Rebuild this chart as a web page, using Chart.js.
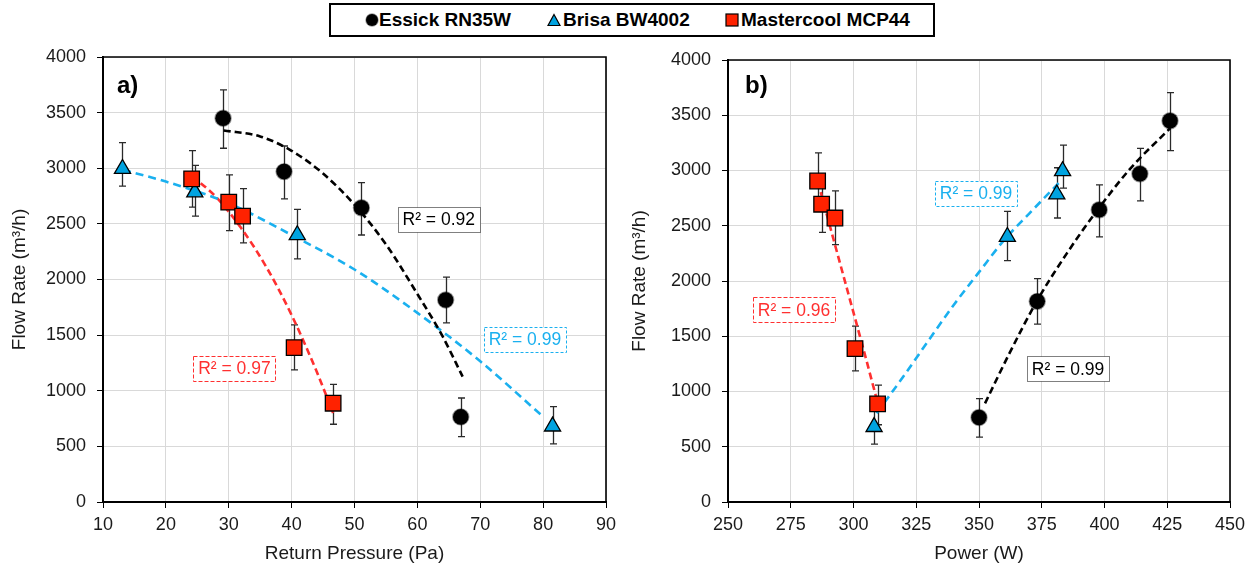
<!DOCTYPE html>
<html>
<head>
<meta charset="utf-8">
<script src="https://cdn.jsdelivr.net/npm/chart.js@4.4.1/dist/chart.umd.min.js"></script>
<style>
html,body{margin:0;padding:0;background:#fff;}
#wrap{position:relative;width:1253px;height:566px;overflow:hidden;font-family:"Liberation Sans",Arial,sans-serif;}
#ca{position:absolute;left:0;top:0;}
#cb{position:absolute;left:626px;top:0;}
#legend{position:absolute;left:329px;top:3px;width:602px;height:30px;border:2px solid #000;background:#fff;font-weight:bold;font-size:19px;color:#000;}
#legend .m{position:absolute;top:8px;}
#legend .t{position:absolute;top:4px;line-height:22px;white-space:nowrap;}
</style>
</head>
<body>
<div id="wrap">
  <canvas id="ca" width="626" height="566"></canvas>
  <canvas id="cb" width="627" height="566"></canvas>
  <div id="legend">
    <svg class="m" style="left:34px" width="14" height="14"><circle cx="7" cy="7" r="6" fill="#000" stroke="rgba(0,0,0,0.4)" stroke-width="1.5"/></svg>
    <span class="t" style="left:48px">Essick RN35W</span>
    <svg class="m" style="left:216px" width="14" height="14"><polygon points="7,1.5 13,12.5 1,12.5" fill="#00a3e0" stroke="#000" stroke-width="1.2"/></svg>
    <span class="t" style="left:232px">Brisa BW4002</span>
    <svg class="m" style="left:394px" width="14" height="14"><rect x="1" y="1" width="12" height="12" fill="#ff2200" stroke="#000" stroke-width="1.2"/></svg>
    <span class="t" style="left:410px">Mastercool MCP44</span>
  </div>
</div>
<script>
// ---------------- DATA ----------------
const yTickValues  = [0, 500, 1000, 1500, 2000, 2500, 3000, 3500, 4000];
const xTickValuesA = [10, 20, 30, 40, 50, 60, 70, 80, 90];
const xTickValuesB = [250, 275, 300, 325, 350, 375, 400, 425, 450];

const essickPressure = [29.1, 38.8, 51.1, 64.5, 66.9];
const essickPower    = [426.1, 414.1, 397.9, 373.2, 350.0];
const essickFlow     = [3450, 2970, 2645, 1816, 765];
const essickErrUp    = [255, 230, 225, 205, 170];
const essickErrDown  = [270, 245, 245, 206, 178];

const brisaPressure = [13.1, 24.6, 40.9, 81.5];
const brisaPower    = [383.3, 381.0, 361.3, 308.2];
const brisaFlow     = [2995, 2785, 2400, 680];
const brisaErrUp    = [235, 240, 230, 177];
const brisaErrDown  = [155, 215, 215, 157];

const masterPressure = [24.1, 30.0, 32.2, 40.4, 46.6];
const masterPower    = [285.7, 287.3, 292.6, 300.6, 309.6];
const masterFlow     = [2905, 2695, 2570, 1388, 888];
const masterErrUp    = [254, 245, 246, 204, 170];
const masterErrDown  = [255, 255, 240, 201, 189];

// trendlines
const trendAEssickX = [29.2, 35, 40, 45, 50, 55, 60, 64, 67.2];
const trendAEssickY = [3340, 3286, 3157, 2952, 2672, 2316, 1870, 1490, 1127];
const trendABrisaX  = [13.2, 20, 30, 40, 50, 60, 70, 80];
const trendABrisaY  = [2985, 2880, 2686, 2400, 2090, 1700, 1265, 767];
const trendAMasterX = [24.2, 28, 32, 36, 40, 44, 46.6];
const trendAMasterY = [2930, 2740, 2460, 2110, 1680, 1170, 800];

const trendBEssickX = [352.4, 362, 373.3, 385, 395.5, 410, 426.1];
const trendBEssickY = [893, 1340, 1828, 2250, 2590, 3010, 3382];
const trendBBrisaX  = [309.2, 320, 330, 340, 350, 360, 370, 382.3];
const trendBBrisaY  = [803, 1140, 1465, 1785, 2080, 2370, 2610, 2900];
const trendBMasterX = [285.8, 292, 298, 304, 309.6];
const trendBMasterY = [2900, 2380, 1880, 1380, 900];

const r2TextsA = ['R² = 0.92', 'R² = 0.99', 'R² = 0.97'];
const r2TextsB = ['R² = 0.99', 'R² = 0.99', 'R² = 0.96'];

// ---------------- STYLES ----------------
const FONT = '"Liberation Sans", Arial, sans-serif';
const C_BLUE = '#00a3e0', C_RED = '#ff2200';
const L_BLUE = '#1ab0ef', L_RED = '#ff3030';

function pts(xs, ys) { return xs.map((x, i) => ({x: x, y: ys[i]})); }

function markerSets(xE, xB, xM) {
  return [
    {label: 'Mastercool MCP44', data: pts(xM, masterFlow), errUp: masterErrUp, errDown: masterErrDown,
     pointStyle: 'rect', pointRadius: 11, pointBackgroundColor: C_RED, pointBorderColor: '#000', pointBorderWidth: 1.3, showLine: false, order: 0},
    {label: 'Brisa BW4002', data: pts(xB, brisaFlow), errUp: brisaErrUp, errDown: brisaErrDown,
     pointStyle: 'triangle', pointRadius: 9.3, pointBackgroundColor: C_BLUE, pointBorderColor: '#000', pointBorderWidth: 1.3, showLine: false, order: 1},
    {label: 'Essick RN35W', data: pts(xE, essickFlow), errUp: essickErrUp, errDown: essickErrDown,
     pointStyle: 'circle', pointRadius: 7.8, pointBackgroundColor: '#000', pointBorderColor: 'rgba(0,0,0,0.4)', pointBorderWidth: 1.8, showLine: false, order: 2}
  ];
}
function trendSet(xs, ys, color, dash) {
  return {data: pts(xs, ys), showLine: true, pointRadius: 0, borderColor: color, borderWidth: 2.6,
          borderDash: dash, fill: false, cubicInterpolationMode: 'monotone', order: 5};
}

const errorBarPlugin = {
  id: 'errbars',
  beforeDatasetsDraw(chart) {
    const ctx = chart.ctx, xs = chart.scales.x, ys = chart.scales.y;
    ctx.save();
    ctx.strokeStyle = '#2a2a2a';
    ctx.lineWidth = 1.3;
    chart.data.datasets.forEach(ds => {
      if (!ds.errUp) return;
      ds.data.forEach((p, i) => {
        const px = Math.round(xs.getPixelForValue(p.x)) + 0.5;
        const yt = ys.getPixelForValue(p.y + ds.errUp[i]);
        const yb = ys.getPixelForValue(p.y - ds.errDown[i]);
        ctx.beginPath();
        ctx.moveTo(px, yt); ctx.lineTo(px, yb);
        ctx.moveTo(px - 3.5, yt); ctx.lineTo(px + 3.5, yt);
        ctx.moveTo(px - 3.5, yb); ctx.lineTo(px + 3.5, yb);
        ctx.stroke();
      });
    });
    ctx.restore();
  }
};

const framePlugin = {
  id: 'frame',
  afterDraw(chart) {
    const {ctx, chartArea: a} = chart;
    ctx.save();
    ctx.strokeStyle = '#000';
    ctx.lineWidth = 1.6;
    ctx.beginPath();
    ctx.moveTo(a.left, a.top); ctx.lineTo(a.right, a.top); ctx.lineTo(a.right, a.bottom);
    ctx.stroke();
    ctx.restore();
  }
};

function r2Plugin(labels) {
  return {
    id: 'r2',
    afterDatasetsDraw(chart) {
      const ctx = chart.ctx, xs = chart.scales.x, ys = chart.scales.y;
      labels.forEach(l => {
        const cx = xs.getPixelForValue(l.x), cy = ys.getPixelForValue(l.y);
        ctx.save();
        ctx.font = '17.5px ' + FONT;
        const w = Math.round(ctx.measureText(l.text).width + 10), h = 25;
        const bx = Math.round(cx - w / 2) + 0.5, by = Math.round(cy - h / 2) + 0.5;
        ctx.fillStyle = '#fff';
        ctx.fillRect(bx, by, w, h);
        ctx.setLineDash(l.dash);
        ctx.strokeStyle = l.border;
        ctx.lineWidth = 1;
        ctx.strokeRect(bx, by, w, h);
        ctx.setLineDash([]);
        ctx.fillStyle = l.color;
        ctx.textAlign = 'center';
        ctx.textBaseline = 'middle';
        ctx.fillText(l.text, cx, cy + 1);
        ctx.restore();
      });
    }
  };
}

function panelLabelPlugin(text, dx, dy) {
  return {
    id: 'panel',
    afterDraw(chart) {
      const {ctx, chartArea: a} = chart;
      ctx.save();
      ctx.font = 'bold 24px ' + FONT;
      ctx.fillStyle = '#000';
      ctx.textAlign = 'left';
      ctx.textBaseline = 'alphabetic';
      ctx.fillText(text, a.left + dx, a.top + dy);
      ctx.restore();
    }
  };
}

function makeChart(canvasId, datasets, xMin, xMax, xTicks, xTitle, pad, yWidth, yTitlePad, plugins) {
  return new Chart(document.getElementById(canvasId), {
    type: 'scatter',
    data: {datasets: datasets},
    plugins: [errorBarPlugin, framePlugin].concat(plugins),
    options: {
      responsive: false, animation: false, devicePixelRatio: 1,
      layout: {padding: pad},
      plugins: {legend: {display: false}, tooltip: {enabled: false}},
      scales: {
        x: {
          type: 'linear', min: xMin, max: xMax,
          afterBuildTicks: s => { s.ticks = xTicks.map(v => ({value: v})); },
          afterFit: s => { s.height = 64; },
          grid: {color: '#d9d9d9', lineWidth: 1, tickColor: '#000', tickLength: 6, drawTicks: true},
          border: {display: true, color: '#000', width: 2},
          ticks: {color: '#1a1a1a', font: {family: FONT, size: 18}, padding: 6, maxRotation: 0, callback: v => String(v)},
          title: {display: true, text: xTitle, color: '#1a1a1a', font: {family: FONT, size: 19}, padding: {top: 0, bottom: 1}}
        },
        y: {
          type: 'linear', min: 0, max: 4000,
          afterBuildTicks: s => { s.ticks = yTickValues.map(v => ({value: v})); },
          afterFit: s => { s.width = yWidth; },
          grid: {color: '#d9d9d9', lineWidth: 1, tickColor: '#000', tickLength: 6, drawTicks: true},
          border: {display: true, color: '#000', width: 2},
          ticks: {color: '#1a1a1a', font: {family: FONT, size: 18}, padding: 11, callback: v => String(v)},
          title: {display: true, text: 'Flow Rate (m³/h)', color: '#1a1a1a', font: {family: FONT, size: 19}, padding: {top: yTitlePad, bottom: 0}}
        }
      }
    }
  });
}

// ---------------- PANEL a ----------------
const datasetsA = markerSets(essickPressure, brisaPressure, masterPressure).concat([
  trendSet(trendAEssickX, trendAEssickY, '#000000', [7, 4]),
  trendSet(trendABrisaX, trendABrisaY, L_BLUE, [8, 5]),
  trendSet(trendAMasterX, trendAMasterY, L_RED, [7, 4])
]);
const labelsA = [
  {text: r2TextsA[0], x: 63.4, y: 2539, color: '#000', border: '#000', dash: [1, 1]},
  {text: r2TextsA[1], x: 77.1, y: 1465, color: L_BLUE, border: L_BLUE, dash: [3, 2]},
  {text: r2TextsA[2], x: 30.9, y: 1204, color: L_RED, border: L_RED, dash: [4, 2]}
];
makeChart('ca', datasetsA, 10, 90, xTickValuesA, 'Return Pressure (Pa)',
  {left: 0, right: 20, top: 57, bottom: 0}, 103, 8.6,
  [r2Plugin(labelsA), panelLabelPlugin('a)', 14, 36)]);

// ---------------- PANEL b ----------------
const datasetsB = markerSets(essickPower, brisaPower, masterPower).concat([
  trendSet(trendBEssickX, trendBEssickY, '#000000', [7, 4]),
  trendSet(trendBBrisaX, trendBBrisaY, L_BLUE, [8, 5]),
  trendSet(trendBMasterX, trendBMasterY, L_RED, [7, 4])
]);
const labelsB = [
  {text: r2TextsB[0], x: 348.8, y: 2796, color: L_BLUE, border: L_BLUE, dash: [3, 2]},
  {text: r2TextsB[1], x: 385.5, y: 1204, color: '#000', border: '#000', dash: [1, 1]},
  {text: r2TextsB[2], x: 276.3, y: 1738, color: L_RED, border: L_RED, dash: [4, 2]}
];
makeChart('cb', datasetsB, 250, 450, xTickValuesB, 'Power (W)',
  {left: 0, right: 23, top: 60, bottom: 0}, 102, 2.6,
  [r2Plugin(labelsB), panelLabelPlugin('b)', 17, 33)]);
</script>
</body>
</html>
